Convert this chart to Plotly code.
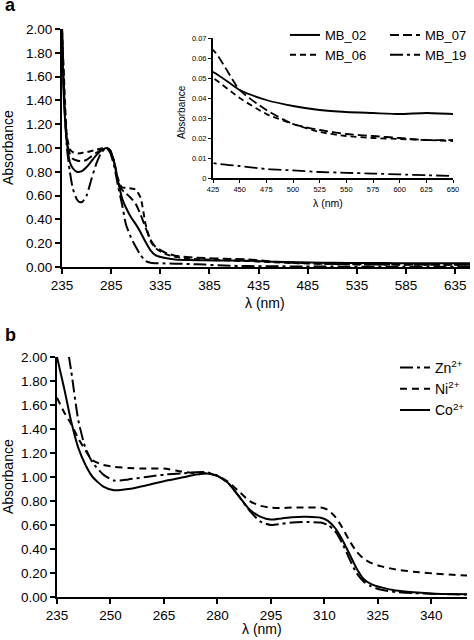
import plotly.graph_objects as go

W, H = 474, 640
FONT = "Liberation Sans, Arial, sans-serif"

# ---------------- Panel a data ----------------
wl_a = [235, 237, 240, 243, 246, 250, 253, 256, 260, 265, 270, 275, 280, 284, 288,
        292, 296, 300, 305, 310, 315, 320, 325, 330, 340, 350, 365, 380, 400, 425,
        450, 475, 500, 525, 550, 575, 600, 625, 650]
mb_02 = [2.00, 1.40, 1.05, 0.88, 0.83, 0.80, 0.80, 0.81, 0.84, 0.89, 0.94, 0.98, 1.00, 0.98, 0.88,
         0.72, 0.58, 0.50, 0.42, 0.36, 0.29, 0.21, 0.14, 0.10, 0.075, 0.063, 0.058, 0.056, 0.055, 0.053,
         0.044, 0.039, 0.036, 0.034, 0.033, 0.0325, 0.032, 0.0325, 0.032]
mb_07 = [2.00, 1.50, 1.05, 0.95, 0.91, 0.895, 0.89, 0.89, 0.90, 0.93, 0.96, 0.985, 1.00, 0.98, 0.88,
         0.72, 0.65, 0.62, 0.58, 0.53, 0.44, 0.33, 0.23, 0.17, 0.12, 0.095, 0.082, 0.075, 0.069, 0.064,
         0.044, 0.034, 0.027, 0.024, 0.022, 0.021, 0.020, 0.019, 0.019]
mb_06 = [2.00, 1.60, 1.10, 0.99, 0.965, 0.955, 0.955, 0.96, 0.965, 0.975, 0.985, 0.995, 1.00, 0.98, 0.89,
         0.74, 0.67, 0.665, 0.66, 0.65, 0.58, 0.36, 0.22, 0.16, 0.11, 0.085, 0.070, 0.062, 0.056, 0.050,
         0.040, 0.032, 0.027, 0.023, 0.021, 0.020, 0.0195, 0.019, 0.0185]
mb_19 = [2.00, 1.45, 1.00, 0.80, 0.66, 0.57, 0.545, 0.55, 0.60, 0.74, 0.87, 0.96, 1.00, 0.96, 0.85,
         0.68, 0.53, 0.36, 0.25, 0.17, 0.10, 0.05, 0.035, 0.032, 0.030, 0.028, 0.025, 0.020, 0.012, 0.0075,
         0.006, 0.0045, 0.0038, 0.003, 0.0026, 0.0022, 0.0018, 0.0014, 0.001]

xticks_a = [235, 285, 335, 385, 435, 485, 535, 585, 635]
yticks_ab = [0.0, 0.2, 0.4, 0.6, 0.8, 1.0, 1.2, 1.4, 1.6, 1.8, 2.0]
xticks_inset = [425, 450, 475, 500, 525, 550, 575, 600, 625, 650]
yticks_inset = [0, 0.01, 0.02, 0.03, 0.04, 0.05, 0.06, 0.07]
yticktext_inset = ["0", "0.01", "0.02", "0.03", "0.04", "0.05", "0.06", "0.07"]

# ---------------- Panel b data ----------------
wl_b = [235, 237, 239, 241, 243, 245, 248, 251, 255, 260, 265, 270, 274, 277, 280, 283, 286,
        289, 292, 295, 298, 301, 305, 309, 311, 313, 315, 317, 319, 321, 323, 326, 330,
        335, 341, 346, 350]
zn = [2.60, 2.25, 1.88, 1.47, 1.24, 1.12, 1.02, 0.97, 0.98, 1.00, 1.02, 1.03, 1.04, 1.04, 1.01, 0.95, 0.84,
      0.72, 0.63, 0.60, 0.61, 0.62, 0.625, 0.62, 0.60, 0.55, 0.45, 0.32, 0.20, 0.13, 0.09, 0.06, 0.042,
      0.032, 0.026, 0.022, 0.020]
ni = [1.66, 1.54, 1.44, 1.32, 1.22, 1.14, 1.10, 1.085, 1.075, 1.07, 1.07, 1.045, 1.03, 1.03, 1.01, 0.96, 0.88,
      0.80, 0.76, 0.745, 0.742, 0.745, 0.745, 0.745, 0.725, 0.67, 0.58, 0.47, 0.38, 0.32, 0.285, 0.255, 0.23,
      0.21, 0.195, 0.185, 0.18]
co = [2.00, 1.74, 1.46, 1.24, 1.10, 1.00, 0.92, 0.89, 0.90, 0.93, 0.965, 0.995, 1.02, 1.03, 1.01, 0.95, 0.84,
      0.73, 0.67, 0.645, 0.655, 0.665, 0.668, 0.66, 0.635, 0.575, 0.48, 0.36, 0.24, 0.15, 0.11, 0.08, 0.055,
      0.04, 0.028, 0.024, 0.022]
xticks_b = [235, 250, 265, 280, 295, 310, 325, 340]


def fx(p):
    return p / W


def fy(p):
    return 1 - p / H


DASH_06 = "6px,4px"
DASH_07 = "9px,4px"
DASH_19 = "13px,4px,3px,4px"
DASH_NI = "7px,5px"
DASH_ZN = "13px,4px,3px,4px"

fig = go.Figure()

series_a = [
    ("MB_02", mb_02, "solid", "legend"),
    ("MB_07", mb_07, DASH_07, "legend2"),
    ("MB_06", mb_06, DASH_06, "legend"),
    ("MB_19", mb_19, DASH_19, "legend2"),
]
for name, vals, dash, leg in series_a:
    fig.add_trace(go.Scatter(x=wl_a, y=vals, name=name, mode="lines",
                             line=dict(color="black", width=2, dash=dash, shape="spline", smoothing=0.6),
                             xaxis="x", yaxis="y", legend=leg))
for name, vals, dash, leg in series_a:
    fig.add_trace(go.Scatter(x=wl_a, y=vals, name=name, mode="lines", showlegend=False,
                             line=dict(color="black", width=1.8, dash=dash, shape="spline", smoothing=0.6),
                             xaxis="x3", yaxis="y3"))

series_b = [
    ("Zn<sup>2+</sup>", zn, DASH_ZN),
    ("Ni<sup>2+</sup>", ni, DASH_NI),
    ("Co<sup>2+</sup>", co, "solid"),
]
for name, vals, dash in series_b:
    fig.add_trace(go.Scatter(x=wl_b, y=vals, name=name, mode="lines",
                             line=dict(color="black", width=2, dash=dash, shape="spline", smoothing=0.6),
                             xaxis="x2", yaxis="y2", legend="legend3"))

axis_common = dict(showgrid=False, zeroline=False, showline=True, linecolor="black", linewidth=2,
                   ticks="outside", ticklen=5, tickwidth=1.5, tickcolor="black", automargin=False,
                   tickfont=dict(family=FONT, size=13.5, color="black"))
inset_common = dict(showgrid=False, zeroline=False, showline=True, linecolor="black", linewidth=2,
                    ticks="outside", ticklen=3, tickwidth=1, tickcolor="black", automargin=False,
                    tickfont=dict(family=FONT, size=7.5, color="black"))

legend_common = dict(xanchor="left", yanchor="top", bgcolor="rgba(0,0,0,0)", borderwidth=0,
                     tracegroupgap=0, font=dict(family=FONT, size=13, color="black"))


def label(text, xp, yp, size=14, angle=0, xa="center", ya="middle", bold=False):
    return dict(text=f"<b>{text}</b>" if bold else text, x=fx(xp), y=fy(yp), xref="paper", yref="paper",
                xanchor=xa, yanchor=ya, textangle=angle, showarrow=False,
                font=dict(family=FONT, size=size, color="black"))


annotations = [
    label("a", 3, -7, size=18, xa="left", ya="top", bold=True),
    label("b", 3, 323, size=18, xa="left", ya="top", bold=True),
    label("Absorbance", 8, 148, angle=-90),
    label("λ (nm)", 265, 303),
    label("Absorbance", 181, 112, size=10, angle=-90),
    label("λ (nm)", 328, 203, size=10.5),
    label("Absorbance", 8, 477, angle=-90),
    label("λ (nm)", 262, 629),
]

fig.update_layout(
    template="none",
    width=W, height=H,
    margin=dict(l=0, r=0, t=0, b=0, pad=0),
    paper_bgcolor="white", plot_bgcolor="rgba(0,0,0,0)",
    font=dict(family=FONT, color="black"),
    xaxis=dict(domain=[fx(62), fx(470)], range=[235, 650], anchor="y", tickvals=xticks_a, **axis_common),
    yaxis=dict(domain=[fy(267), fy(29)], range=[0, 2.0], anchor="x", tickvals=yticks_ab, tickformat=".2f",
               **axis_common),
    xaxis3=dict(domain=[fx(213), fx(453)], range=[425, 650], anchor="y3", tickvals=xticks_inset, **inset_common),
    yaxis3=dict(domain=[fy(178), fy(38)], range=[0, 0.07], anchor="x3", tickvals=yticks_inset,
                ticktext=yticktext_inset, **inset_common),
    xaxis2=dict(domain=[fx(57), fx(467)], range=[235, 350], anchor="y2", tickvals=xticks_b, **axis_common),
    yaxis2=dict(domain=[fy(597), fy(357)], range=[0, 2.0], anchor="x2", tickvals=yticks_ab, tickformat=".2f",
                **axis_common),
    legend=dict(x=fx(285), y=fy(20), **legend_common),
    legend2=dict(x=fx(385), y=fy(20), **legend_common),
    legend3=dict(x=fx(395), y=fy(352), **{**legend_common, "font": dict(family=FONT, size=14, color="black")}),
    annotations=annotations,
    showlegend=True,
)

# The page body has a default 8px margin; remove it so the figure sits at the window's top-left corner.
fig.write_html("out.html", config={"displayModeBar": False},
               post_script="document.body.style.margin='0';document.body.style.overflow='hidden';")
